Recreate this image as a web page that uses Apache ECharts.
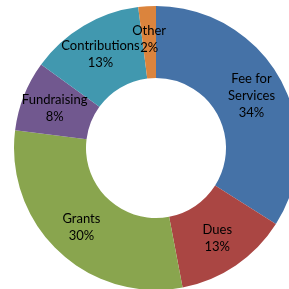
<!DOCTYPE html>
<html>
<head>
<meta charset="utf-8">
<script src="https://cdn.jsdelivr.net/npm/echarts@6/dist/echarts.min.js"></script>
<style>
  html, body { margin: 0; padding: 0; background: #fff; }
  #chart { width: 289px; height: 289px; }
</style>
</head>
<body>
<div id="chart"></div>
<script>
// 收入来源
const categories = ['Fee for\nServices', 'Dues', 'Grants', 'Fundraising', 'Contributions', 'Other']
const values = [34, 13, 30, 8, 13, 2]
const colors = ['#4572A7', '#AA4643', '#89A54E', '#71588F', '#4198AF', '#DB843D']

const data = categories.map((name, i) => ({ name, value: values[i] }))

const chart = echarts.init(document.getElementById('chart'))
chart.setOption({
  animation: false,
  color: colors,
  series: [{
    type: 'pie',
    center: [156, 148],
    radius: [70, 142],
    startAngle: 90,
    clockwise: true,
    avoidLabelOverlap: false,
    minShowLabelAngle: 0,
    data,
    itemStyle: { borderWidth: 0 },
    label: {
      show: true,
      position: 'inside',
      formatter: '{b}\n{c}%',
      color: '#000',
      fontFamily: 'Lato',
      fontSize: 13,
      lineHeight: 17
    },
    labelLine: { show: false },
    // 小扇区的标签也要显示
    labelLayout: function (params) {
      return { hideOverlap: false }
    }
  }]
})
// 保证 Other 标签显示
chart.getModel().getSeriesByIndex(0).getData().eachItemGraphicEl(function (el) {
  const label = el.getTextContent()
  if (label) label.ignore = false
})
chart.getZr().refreshImmediately()
window.addEventListener('resize', chart.resize)
</script>
</body>
</html>
